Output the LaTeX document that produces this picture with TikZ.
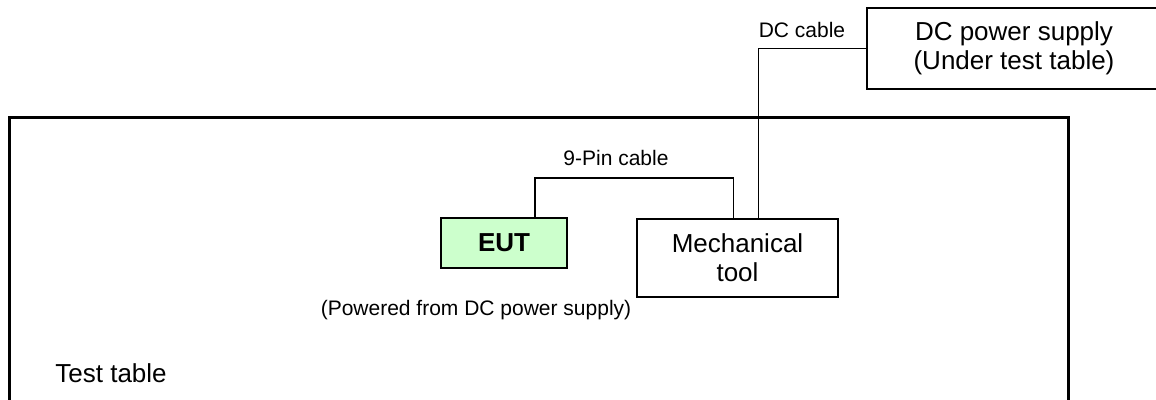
\documentclass[tikz,border=0pt]{standalone}
\usepackage{fontspec}
\setmainfont{Liberation Sans}
\usepackage{xcolor}
\definecolor{eutgreen}{RGB}{204,255,204}

\begin{document}
\begin{tikzpicture}[x=0.5pt,y=-0.5pt,
  unit/.style={draw, line width=1pt, inner sep=0pt, align=center, font=\fontsize{13}{14.5}\selectfont},
  lbl/.style={inner sep=0pt, font=\fontsize{10.5}{12}\selectfont},
  cable/.style={line width=0.85pt}]
\useasboundingbox (0,0) rectangle (1156,400);
% test table
\draw[line width=1.5pt] (9,400) -- (9,118) -- (1068,118) -- (1068,400);
\node[inner sep=0pt, anchor=west, font=\fontsize{13}{14.5}\selectfont] (tbllbl) at (55,373) {Test table};
% units
\node[unit, fill=eutgreen, minimum width=63pt, minimum height=25pt, font=\fontsize{13}{14.5}\selectfont\bfseries] (eut) at (504,243) {EUT};
\node[unit, minimum width=100.5pt, minimum height=39pt] (mtool) at (737.5,258) {Mechanical\\tool};
\node[unit, minimum width=147pt, minimum height=40.5pt] (dcps) at (1014,48.5) {DC power supply\\(Under test table)};
\node[lbl] (powlbl) at (476,310) {(Powered from DC power supply)};
% cables
\coordinate (pin) at (616,178);
\draw[cable] ([xshift=15.5pt]eut.north) |- (pin) -| ([xshift=-2pt]mtool.north);
\node[lbl] (pinlbl) at (616,158) {9-Pin cable};
\draw[cable] ([xshift=10.5pt]mtool.north) |- (dcps.west);
\node[lbl] (dclbl) at (802,30) {DC cable};
\end{tikzpicture}
\end{document}
